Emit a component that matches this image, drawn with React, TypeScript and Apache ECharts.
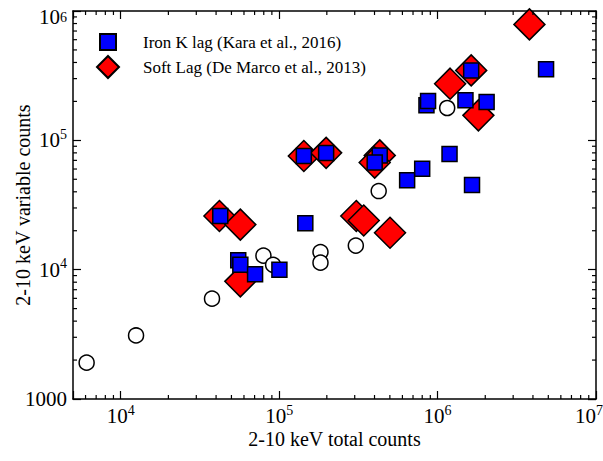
import React, { useEffect, useRef } from 'react';
import * as echarts from 'echarts';

const FONT = '"Liberation Serif", "DejaVu Serif", serif';

const X_MIN = 5000;
const X_MAX = 1e7;
const Y_MIN = 1000;
const Y_MAX = 1e6;

const ironKName = 'Iron K lag (Kara et al., 2016)';
const softLagName = 'Soft Lag (De Marco et al., 2013)';

const ironKX = [42500, 146300, 55200, 56900, 70500, 100400, 143200, 198000, 431600, 401000, 642600, 799800, 1190000, 1650000, 851000, 871000, 1500000, 2040000, 1630000, 4840000];
const ironKY = [26000, 22900, 11800, 10900, 9200, 10000, 75700, 79800, 76500, 67300, 49100, 60400, 78300, 45100, 186700, 201400, 203800, 197700, 347300, 354000];

const softLagX = [42000, 56900, 56900, 143200, 198000, 431600, 401000, 307000, 342000, 501000, 1200000, 1630000, 1810000, 3800000];
const softLagY = [26000, 22300, 8120, 75700, 80000, 76500, 67300, 26000, 24000, 19300, 274300, 347300, 156000, 788000];

const otherX = [6095, 12500, 37700, 79600, 91600, 182400, 182400, 304800, 425000, 1150000];
const otherY = [1909, 3100, 5970, 12830, 10900, 13680, 11330, 15350, 40550, 177800];

const xMinorTicks = [6000, 7000, 8000, 9000, 20000, 30000, 40000, 50000, 60000, 70000, 80000, 90000, 200000, 300000, 400000, 500000, 600000, 700000, 800000, 900000, 2000000, 3000000, 4000000, 5000000, 6000000, 7000000, 8000000, 9000000];
const yMinorTicks = [2000, 3000, 4000, 5000, 6000, 7000, 8000, 9000, 20000, 30000, 40000, 50000, 60000, 70000, 80000, 90000, 200000, 300000, 400000, 500000, 600000, 700000, 800000, 900000];

const zip = (a: number[], b: number[]) => a.map((v, i) => [v, b[i]]);

const decade = (v: number) => {
  const e = Math.round(Math.log10(v));
  return Math.abs(v / Math.pow(10, e) - 1) > 1e-6 ? null : e;
};

const xLabelFormatter = (v: number) => {
  const e = decade(v);
  if (e === null) return '';
  if (e === 7) return '{b|10}{se|' + e + '}';
  return '{b|10}{s|' + e + '}';
};

const yLabelFormatter = (v: number) => {
  const e = decade(v);
  if (e === null) return '';
  if (e === 3) return '{p|1000}';
  if (e === 6) return '{bt|10}{st|' + e + '}';
  return '{b|10}{s|' + e + '}';
};

const labelRich = {
  p: { fontSize: 21, fontFamily: FONT, color: '#000' },
  b: { fontSize: 21, fontFamily: FONT, color: '#000', lineHeight: 26 },
  s: { fontSize: 14, fontFamily: FONT, color: '#000', verticalAlign: 'top', lineHeight: 14 },
  se: { fontSize: 14, fontFamily: FONT, color: '#000', verticalAlign: 'top', lineHeight: 14, padding: [0, 14, 0, 0] },
  bt: { fontSize: 21, fontFamily: FONT, color: '#000', lineHeight: 26, padding: [12, 0, 0, 0] },
  st: { fontSize: 14, fontFamily: FONT, color: '#000', verticalAlign: 'top', lineHeight: 14, padding: [12, 0, 0, 0] },
};

export default function App() {
  const ref = useRef<HTMLDivElement>(null);
  useEffect(() => {
    document.body.style.margin = '0';
    document.body.style.overflow = 'hidden';
    const chart = echarts.init(ref.current!, null, { renderer: 'svg' });
    const axisLine = { show: true, lineStyle: { color: '#000', width: 1.5 } };
    const majorTick = { show: true, inside: true, length: 8, lineStyle: { color: '#000', width: 1.2 } };
    const xCommon = { type: 'log', min: X_MIN, max: X_MAX, logBase: 10, splitLine: { show: false }, axisLine, axisTick: majorTick };
    const yCommon = { type: 'log', min: Y_MIN, max: Y_MAX, logBase: 10, splitLine: { show: false }, axisLine, axisTick: majorTick };
    const legendText = { fontFamily: FONT, fontSize: 17, color: '#000' };
    const option: any = {
      animation: false,
      backgroundColor: '#fff',
      grid: { left: 73, right: 7, top: 11, bottom: 62, containLabel: false, outerBoundsMode: 'none' },
      legend: [
        {
          data: [{ name: ironKName }],
          left: 99, top: 33, padding: 0,
          itemWidth: 16, itemHeight: 16,
          textStyle: { ...legendText, padding: [0, 0, 0, 22] },
          selectedMode: false,
        },
        {
          data: [{ name: softLagName }],
          left: 96, top: 55, padding: 0,
          itemWidth: 22, itemHeight: 22,
          textStyle: { ...legendText, padding: [0, 0, 0, 19] },
          selectedMode: false,
        },
      ],
      xAxis: [
        {
          ...xCommon,
          position: 'bottom',
          name: '2-10 keV total counts',
          nameLocation: 'middle',
          nameGap: 30,
          nameMoveOverlap: false,
          nameTextStyle: { fontFamily: FONT, fontSize: 20, color: '#000' },
          axisLabel: { show: true, margin: 4, formatter: xLabelFormatter, rich: labelRich, showMinLabel: true, showMaxLabel: true, hideOverlap: false },
        },
        { ...xCommon, position: 'top', axisLabel: { show: false } },
      ],
      yAxis: [
        {
          ...yCommon,
          position: 'left',
          name: '2-10 keV variable counts',
          nameLocation: 'middle',
          nameGap: 40,
          nameMoveOverlap: false,
          nameTextStyle: { fontFamily: FONT, fontSize: 20, color: '#000' },
          axisLabel: { show: true, margin: 6, formatter: yLabelFormatter, rich: labelRich, showMinLabel: true, showMaxLabel: true },
        },
        { ...yCommon, position: 'right', axisLabel: { show: false } },
      ],
      series: [
        {
          name: ironKName,
          type: 'scatter',
          symbol: 'rect',
          symbolSize: 15,
          z: 4,
          itemStyle: { color: '#0000ff', borderColor: '#000', borderWidth: 1.5, opacity: 1 },
          data: zip(ironKX, ironKY),
        },
        {
          name: softLagName,
          type: 'scatter',
          symbol: 'diamond',
          symbolSize: 31,
          z: 3,
          itemStyle: { color: '#ff0000', borderColor: '#000', borderWidth: 1.5, opacity: 1 },
          data: zip(softLagX, softLagY),
        },
        {
          name: 'other',
          type: 'scatter',
          symbol: 'circle',
          symbolSize: 15,
          z: 2,
          itemStyle: { color: '#fff', borderColor: '#000', borderWidth: 1.5, opacity: 1 },
          data: zip(otherX, otherY),
        },
        {
          name: 'xminor',
          type: 'custom',
          silent: true,
          z: 5,
          clip: false,
          data: xMinorTicks.map((v) => [v, Y_MIN]),
          renderItem: (params: any, api: any) => {
            const cs = params.coordSys;
            const p = api.coord([api.value(0), Y_MIN]);
            const st = { stroke: '#000', lineWidth: 1.2 };
            return {
              type: 'group',
              children: [
                { type: 'line', shape: { x1: p[0], y1: cs.y + cs.height, x2: p[0], y2: cs.y + cs.height - 4 }, style: st },
                { type: 'line', shape: { x1: p[0], y1: cs.y, x2: p[0], y2: cs.y + 4 }, style: st },
              ],
            };
          },
        },
        {
          name: 'yminor',
          type: 'custom',
          silent: true,
          z: 5,
          clip: false,
          data: yMinorTicks.map((v) => [X_MIN, v]),
          renderItem: (params: any, api: any) => {
            const cs = params.coordSys;
            const p = api.coord([X_MIN, api.value(1)]);
            const st = { stroke: '#000', lineWidth: 1.2 };
            return {
              type: 'group',
              children: [
                { type: 'line', shape: { x1: cs.x, y1: p[1], x2: cs.x + 4, y2: p[1] }, style: st },
                { type: 'line', shape: { x1: cs.x + cs.width, y1: p[1], x2: cs.x + cs.width - 4, y2: p[1] }, style: st },
              ],
            };
          },
        },
      ],
    };
    chart.setOption(option);
    return () => chart.dispose();
  }, []);
  return <div ref={ref} style={{ width: 603, height: 461 }} />;
}
